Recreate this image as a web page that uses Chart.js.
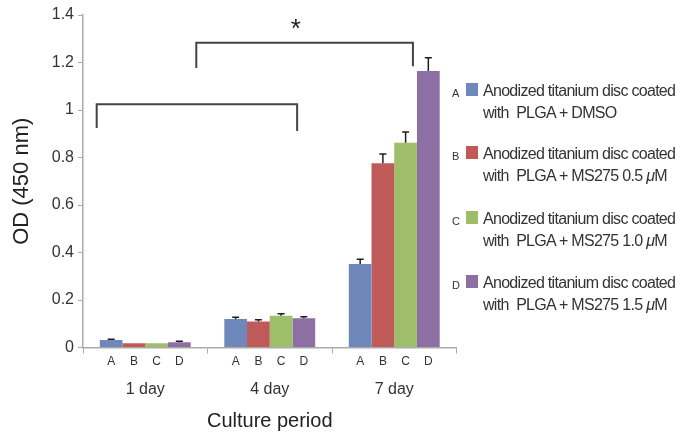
<!DOCTYPE html>
<html>
<head>
<meta charset="utf-8">
<script src="https://cdn.jsdelivr.net/npm/chart.js@4"></script>
<style>
  html, body { margin: 0; padding: 0; background: #fff; }
  #wrap { position: relative; width: 691px; height: 433px; }
  #legend { position: absolute; left: 0; top: 0; font-family: "Liberation Sans", Arial, sans-serif; color: #333; }
  .item { position: absolute; left: 450px; width: 240px; }
  .letter { position: absolute; left: 2px; top: 7px; font-size: 11px; }
  .box { position: absolute; left: 16px; top: 3px; width: 12px; height: 13px; }
  .txt { position: absolute; left: 33px; top: 0; font-size: 16px; line-height: 22px; letter-spacing: -0.7px; white-space: pre; }
</style>
</head>
<body>
<div id="wrap">
  <canvas id="chart" width="691" height="433"></canvas>
  <div id="legend"></div>
</div>
<script>
// kategoriler ve seriler
const groups = ['1 day', '4 day', '7 day'];
const seriesNames = ['A', 'B', 'C', 'D'];
const seriesColors = ['#6e88bc', '#c05a58', '#9fbe69', '#8e6fa4'];
const legendLine1 = 'Anodized titanium disc coated';
const legendLine2 = ['with  PLGA + DMSO', 'with  PLGA + MS275 0.5 <i>μ</i>M', 'with  PLGA + MS275 1.0 <i>μ</i>M', 'with  PLGA + MS275 1.5 <i>μ</i>M'];

// OD değerleri (grup sırası: 1 day, 4 day, 7 day)
const valuesA = [0.032, 0.120, 0.352];
const valuesB = [0.018, 0.110, 0.776];
const valuesC = [0.018, 0.134, 0.862];
const valuesD = [0.022, 0.123, 1.164];
const errA = [0.003, 0.007, 0.020];
const errB = [0.000, 0.007, 0.039];
const errC = [0.000, 0.008, 0.045];
const errD = [0.004, 0.007, 0.056];

// anlamlılık parantezleri (x: kategori indeksi, y: OD)
const bracketX1 = [-0.39, 0.41];
const bracketX2 = [1.22, 2.15];
const bracketY = [1.024, 1.283];
const bracketLeftEnd = [0.924, 1.177];
const bracketRightEnd = [0.912, 1.184];
const starX = 1.21;
const starY = 1.36;

const allValues = [valuesA, valuesB, valuesC, valuesD];
const allErrors = [errA, errB, errC, errD];

// legend (HTML)
const legendTops = [80, 143, 208, 272];
const legendDiv = document.getElementById('legend');
seriesNames.forEach((s, i) => {
    const el = document.createElement('div');
    el.className = 'item';
    el.style.top = legendTops[i] + 'px';
    el.innerHTML = '<span class="letter">' + s + '</span>' +
        '<span class="box" style="background:' + seriesColors[i] + '"></span>' +
        '<span class="txt">' + legendLine1 + '\n' + legendLine2[i] + '</span>';
    legendDiv.appendChild(el);
});

// hata çubukları, parantezler ve alt harfler
const extrasPlugin = {
    id: 'extras',
    afterDraw(chart) {
        const ctx = chart.ctx;
        const xs = chart.scales.x;
        const ys = chart.scales.y;
        ctx.save();

        // hata çubukları
        ctx.strokeStyle = '#1e1e1e';
        ctx.lineWidth = 1.5;
        chart.data.datasets.forEach((ds, i) => {
            const meta = chart.getDatasetMeta(i);
            meta.data.forEach((bar, j) => {
                const err = allErrors[i][j];
                if (!err) return;
                const yTop = ys.getPixelForValue(allValues[i][j] + err);
                ctx.beginPath();
                ctx.moveTo(bar.x, bar.y);
                ctx.lineTo(bar.x, yTop);
                ctx.moveTo(bar.x - 3.5, yTop);
                ctx.lineTo(bar.x + 3.5, yTop);
                ctx.stroke();
            });
        });

        // parantezler
        ctx.strokeStyle = '#444';
        ctx.lineWidth = 2;
        bracketX1.forEach((x1, k) => {
            const px1 = xs.getPixelForValue(x1);
            const px2 = xs.getPixelForValue(bracketX2[k]);
            const py = ys.getPixelForValue(bracketY[k]);
            ctx.beginPath();
            ctx.moveTo(px1, ys.getPixelForValue(bracketLeftEnd[k]));
            ctx.lineTo(px1, py);
            ctx.lineTo(px2, py);
            ctx.lineTo(px2, ys.getPixelForValue(bracketRightEnd[k]));
            ctx.stroke();
        });

        // yıldız
        ctx.fillStyle = '#222';
        ctx.font = '26px "Liberation Sans", Arial, sans-serif';
        ctx.textAlign = 'center';
        ctx.textBaseline = 'middle';
        ctx.fillText('*', xs.getPixelForValue(starX), ys.getPixelForValue(starY) + 5);

        // her çubuğun altındaki A B C D harfleri
        ctx.fillStyle = '#333';
        ctx.font = '12px "Liberation Sans", Arial, sans-serif';
        chart.data.datasets.forEach((ds, i) => {
            chart.getDatasetMeta(i).data.forEach(bar => {
                ctx.fillText(seriesNames[i], bar.x, ys.bottom + 14);
            });
        });
        ctx.restore();
    }
};

new Chart(document.getElementById('chart').getContext('2d'), {
    type: 'bar',
    data: {
        labels: groups,
        datasets: seriesNames.map((s, i) => ({
            label: s,
            data: allValues[i],
            backgroundColor: seriesColors[i],
            categoryPercentage: 0.73,
            barPercentage: 1.0
        }))
    },
    options: {
        responsive: false,
        animation: false,
        layout: { padding: { top: 15, right: 234.5, left: 0, bottom: 0 } },
        plugins: {
            legend: { display: false },
            tooltip: { enabled: false }
        },
        scales: {
            x: {
                afterFit(scale) { scale.height = 85.5; },
                border: { color: '#aaa', width: 1.5 },
                grid: { drawOnChartArea: false, tickLength: 6, color: '#aaa', lineWidth: 1 },
                ticks: { color: '#333', padding: 26, font: { size: 16, family: '"Liberation Sans", Arial, sans-serif' } },
                title: {
                    display: true, text: 'Culture period', color: '#222',
                    padding: { top: 0, bottom: 0 },
                    font: { size: 20, family: '"Liberation Sans", Arial, sans-serif' }
                }
            },
            y: {
                min: 0,
                max: 1.4,
                afterFit(scale) { scale.width = 83; },
                border: { color: '#aaa', width: 1.5 },
                grid: { drawOnChartArea: false, tickLength: 5, color: '#aaa' },
                ticks: {
                    stepSize: 0.2, color: '#333', padding: 4,
                    font: { size: 16, family: '"Liberation Sans", Arial, sans-serif' },
                    callback: v => String(+v.toFixed(1))
                },
                title: {
                    display: true, text: 'OD (450 nm)', color: '#222',
                    padding: { top: 9, bottom: 0 },
                    font: { size: 22, family: '"Liberation Sans", Arial, sans-serif' }
                }
            }
        }
    },
    plugins: [extrasPlugin]
});
</script>
</body>
</html>
